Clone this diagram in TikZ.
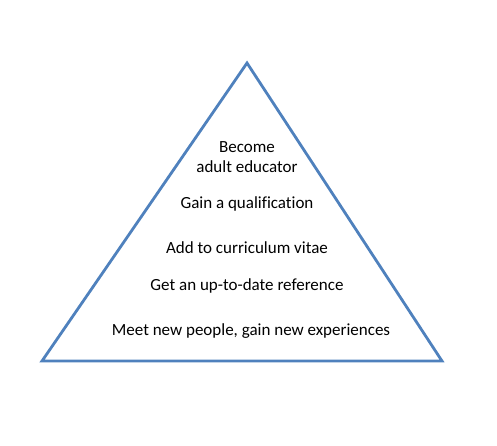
\documentclass[tikz,border=0pt]{standalone}
\usepackage{fontspec}
\setmainfont[Ligatures=NoCommon]{Carlito}
\definecolor{pyr}{HTML}{4F81BD}
\begin{document}
\begin{tikzpicture}[x=1pt,y=-1pt,
  lbl/.style={font=\fontsize{17}{19.5}\selectfont, align=center, inner sep=0pt, text=black}]
\useasboundingbox (0,0) rectangle (497,445);
\coordinate (apex) at (247,63);
\coordinate (bl) at (42,361);
\coordinate (br) at (442,361);
\draw[pyr, line width=2.8pt, line join=miter] (apex) -- (br) -- (bl) -- cycle;
\node[lbl] (t1) at (247,157) {Become\\adult educator};
\node[lbl] (t2) at (247,204) {Gain a qualification};
\node[lbl] (t3) at (247,248) {Add to curriculum vitae};
\node[lbl] (t4) at (247,286) {Get an up-to-date reference};
\node[lbl] (t5) at (251,331) {Meet new people, gain new experiences};
\end{tikzpicture}
\end{document}
